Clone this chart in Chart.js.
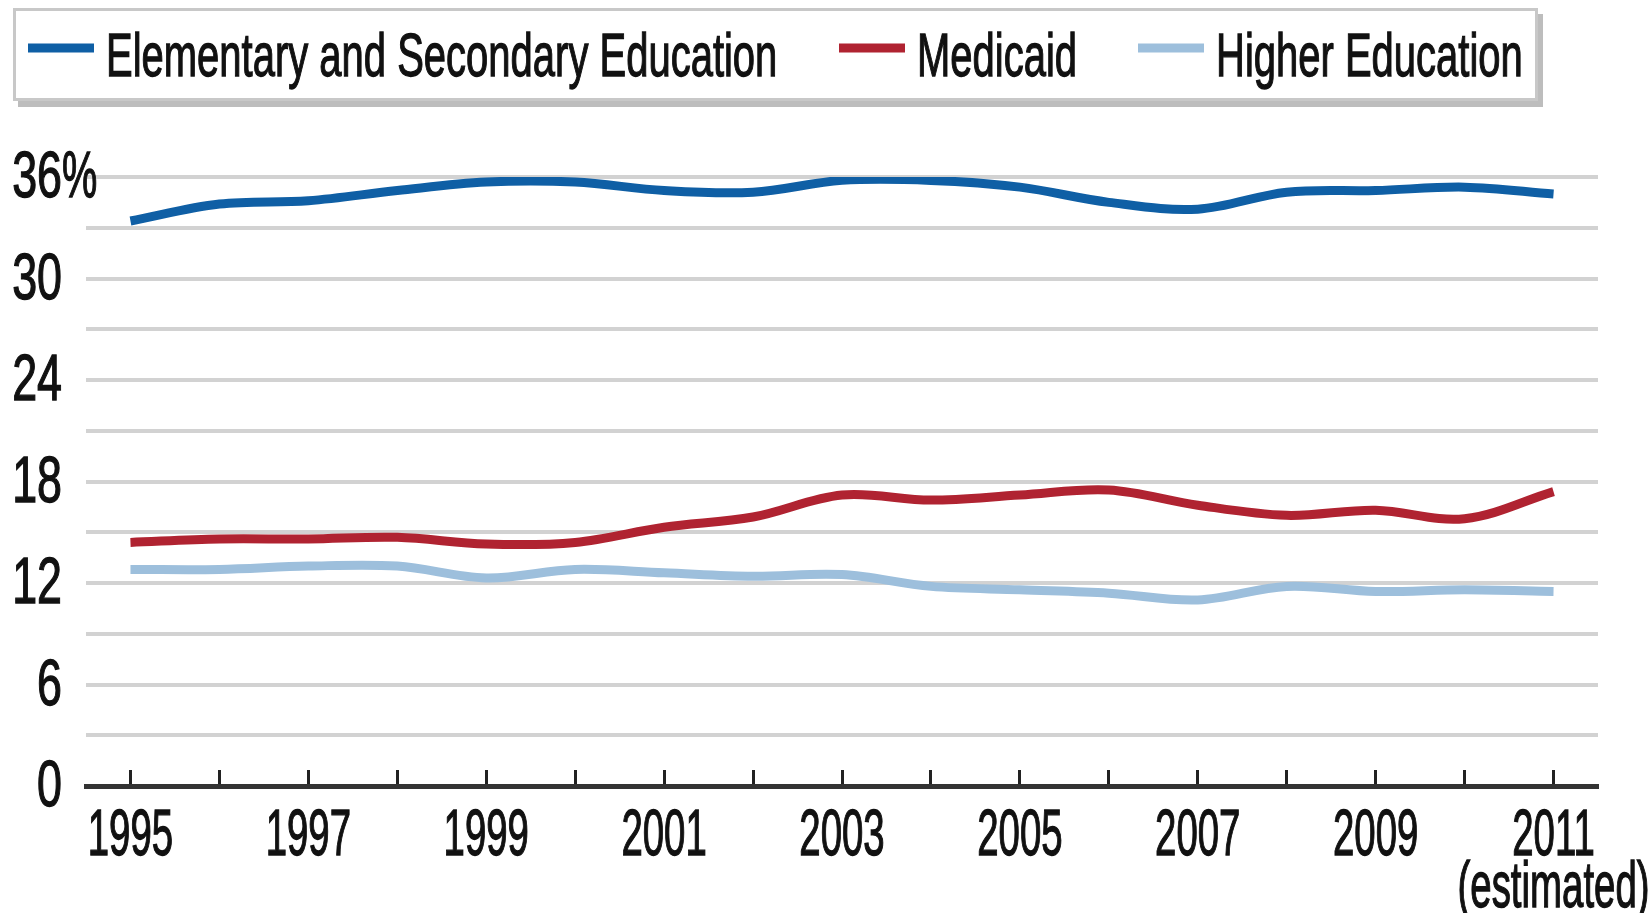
<!DOCTYPE html>
<html>
<head>
<meta charset="utf-8">
<title>Share of state spending</title>
<script src="https://cdnjs.cloudflare.com/ajax/libs/Chart.js/4.4.1/chart.umd.min.js"></script>
<style>
  html, body { margin: 0; padding: 0; background: #fff; }
  #wrap { position: relative; width: 1648px; height: 913px; }
</style>
</head>
<body>
<div id="wrap"><canvas id="spending_chart"></canvas></div>
<script>
const years = ['1995', '1996', '1997', '1998', '1999', '2000', '2001', '2002', '2003',
               '2004', '2005', '2006', '2007', '2008', '2009', '2010', '2011'];
const yearLabels = ['1995', '', '1997', '', '1999', '', '2001', '', '2003',
                    '', '2005', '', '2007', '', '2009', '', ['2011', '(estimated)']];
const yLabels = [0, 6, 12, 18, 24, 30, 36];

const elementary = [33.4, 34.4, 34.6, 35.2, 35.7, 35.7, 35.2, 35.1, 35.8, 35.8, 35.4, 34.5, 34.1, 35.1, 35.2, 35.4, 35.0];
const medicaid   = [14.4, 14.6, 14.6, 14.7, 14.3, 14.4, 15.3, 15.9, 17.2, 16.9, 17.2, 17.5, 16.6, 16.0, 16.3, 15.8, 17.4];
const higherEd   = [12.8, 12.8, 13.0, 13.0, 12.3, 12.8, 12.6, 12.4, 12.5, 11.8, 11.6, 11.4, 11.0, 11.8, 11.5, 11.6, 11.5];

const FONT = "'Liberation Sans', Arial, sans-serif";

// the original uses a condensed face; squeeze regular text horizontally
function narrowText(ctx, text, x, y, align, squeeze) {
    ctx.save();
    ctx.translate(x, y);
    ctx.scale(squeeze, 1);
    ctx.textAlign = align;
    ctx.textBaseline = 'alphabetic';
    ctx.fillStyle = '#111';
    ctx.strokeStyle = '#111';
    ctx.lineWidth = 1.3;
    ctx.fillText(text, 0, 0);
    ctx.strokeText(text, 0, 0);
    ctx.restore();
}

const textLayer = {
    id: 'textLayer',
    afterDraw(chart) {
        const ctx = chart.ctx;
        const xs = chart.scales.x;
        const ys = chart.scales.y;
        ctx.save();

        // legend frame with a soft shadow
        ctx.fillStyle = '#bdbdbd';
        ctx.fillRect(18, 14, 1525, 93);
        ctx.fillStyle = '#fff';
        ctx.fillRect(13, 8, 1525, 93);
        ctx.strokeStyle = '#c8c8c8';
        ctx.lineWidth = 3;
        ctx.strokeRect(14.5, 9.5, 1522, 90);

        const starts = [28, 839, 1138];
        ctx.font = '62px ' + FONT;
        chart.data.datasets.forEach((ds, i) => {
            const x = starts[i];
            ctx.strokeStyle = ds.borderColor;
            ctx.lineWidth = 9;
            ctx.beginPath();
            ctx.moveTo(x, 48);
            ctx.lineTo(x + 66, 48);
            ctx.stroke();
            narrowText(ctx, ds.label, x + 78, 76, 'left', 0.645);
        });

        // y tick labels, "%" only on the top one
        ctx.font = '64px ' + FONT;
        const labelRight = ys.right - 24;
        yLabels.forEach(v => {
            const y = ys.getPixelForValue(v) + 20;
            narrowText(ctx, String(v), labelRight, y, 'right', 0.7);
            if (v === yLabels[yLabels.length - 1]) {
                narrowText(ctx, '%', labelRight, y, 'left', 0.62);
            }
        });

        // x tick labels
        yearLabels.forEach((lab, i) => {
            if (!lab) return;
            const lines = Array.isArray(lab) ? lab : [lab];
            const x = xs.getPixelForValue(i);
            lines.forEach((line, j) => {
                narrowText(ctx, line, x, xs.top + 69 + j * 52, 'center', 0.6);
            });
        });
        ctx.restore();
    }
};

new Chart(document.getElementById('spending_chart'), {
    type: 'line',
    data: {
        labels: years,
        datasets: [
            { label: 'Elementary and Secondary Education', data: elementary, borderColor: '#0f5fa5' },
            { label: 'Medicaid', data: medicaid, borderColor: '#b02331' },
            { label: 'Higher Education', data: higherEd, borderColor: '#9dbfdc' }
        ]
    },
    options: {
        responsive: true,
        maintainAspectRatio: false,
        animation: false,
        layout: { padding: { top: 177, right: 50, left: 0, bottom: 0 } },
        plugins: {
            legend: { display: false },
            tooltip: { enabled: false }
        },
        elements: {
            point: { radius: 0 },
            line: { borderWidth: 9, tension: 0.35, fill: false }
        },
        scales: {
            x: {
                offset: true,
                grid: { drawOnChartArea: false, drawTicks: true, tickLength: -16, tickColor: '#222', tickWidth: 3 },
                border: { color: '#333', width: 5 },
                ticks: { display: false },
                afterFit(scale) {
                    scale.height = 127;
                    scale.paddingLeft = 0;
                    scale.paddingRight = 0;
                }
            },
            y: {
                min: 0,
                max: 36,
                ticks: { display: false, stepSize: 3 },
                grid: {
                    drawTicks: false,
                    lineWidth: 4,
                    color: c => c.tick.value === 0 ? 'rgba(0,0,0,0)' : '#d2d2d2'
                },
                border: { display: false },
                afterFit(scale) {
                    scale.width = 86;
                }
            }
        }
    },
    plugins: [textLayer]
});
</script>
</body>
</html>
